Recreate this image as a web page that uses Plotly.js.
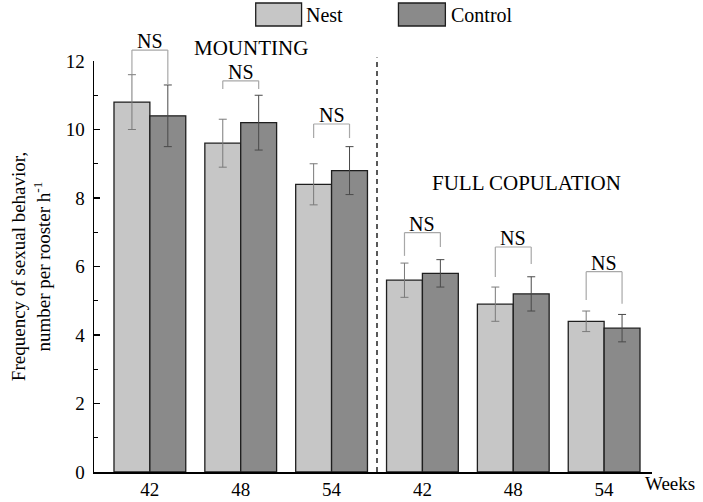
<!DOCTYPE html>
<html>
<head>
<meta charset="utf-8">
<script src="https://cdn.plot.ly/plotly-3.0.1.min.js"></script>
<style>html,body{margin:0;padding:0;background:#fff}#chart{width:703px;height:502px}</style>
</head>
<body>
<div id="chart"></div>
<script>
// ---- data ----
const weekLabels = ["42", "48", "54", "42", "48", "54"];
const nestValues = [10.8, 9.6, 8.4, 5.6, 4.9, 4.4];
const nestErrors = [0.8, 0.7, 0.6, 0.5, 0.5, 0.3];
const controlValues = [10.4, 10.2, 8.8, 5.8, 5.2, 4.2];
const controlErrors = [0.9, 0.8, 0.7, 0.4, 0.5, 0.4];
const sigLabels = ["NS", "NS", "NS", "NS", "NS", "NS"];
const bracketTop = [12.32, 11.42, 10.16, 6.99, 6.57, 5.85];
const bracketLeftBottom = [11.62, 11.18, 9.75, 6.31, 5.69, 5.02];
const bracketRightBottom = [11.3, 11.18, 9.75, 6.57, 6.07, 4.91];
const sectionLabels = ["MOUNTING", "FULL COPULATION"];

const FONT = "'Liberation Serif', 'Times New Roman', 'DejaVu Serif', serif";
const Y_MAX = 12;
const xs = weekLabels.map((_, i) => i);
const half = 0.1975;
const py = v => v / Y_MAX; // data value -> paper fraction (y axis spans 0..Y_MAX)

const traces = [
  {
    type: "bar", name: "Nest", x: xs, y: nestValues,
    marker: {color: "#c6c6c6", line: {color: "#1e1e1e", width: 1.3}},
    error_y: {type: "data", array: nestErrors, visible: true, color: "#7a7a7a", thickness: 1, width: 4}
  },
  {
    type: "bar", name: "Control", x: xs, y: controlValues,
    marker: {color: "#8a8a8a", line: {color: "#1e1e1e", width: 1.3}},
    error_y: {type: "data", array: controlErrors, visible: true, color: "#4a4a4a", thickness: 1, width: 4}
  }
];

const shapes = [];
const annotations = [];
const brColor = "#a8a8a8";
xs.forEach((x, i) => {
  const xl = x - half, xr = x + half;
  const t = py(bracketTop[i]);
  shapes.push({type: "line", xref: "x", yref: "paper", x0: xl, x1: xr, y0: t, y1: t, line: {color: brColor, width: 1.2}});
  shapes.push({type: "line", xref: "x", yref: "paper", x0: xl, x1: xl, y0: py(bracketLeftBottom[i]), y1: t, line: {color: brColor, width: 1.2}});
  shapes.push({type: "line", xref: "x", yref: "paper", x0: xr, x1: xr, y0: py(bracketRightBottom[i]), y1: t, line: {color: brColor, width: 1.2}});
  annotations.push({xref: "x", yref: "paper", x: x, y: t, text: sigLabels[i], showarrow: false,
    xanchor: "center", yanchor: "bottom", yshift: -4, font: {family: FONT, size: 20, color: "#000"}});
});

// divider between sections
shapes.push({type: "line", xref: "x", yref: "paper", x0: 2.5, x1: 2.5, y0: 0, y1: py(12.1), line: {color: "#000", width: 1.3, dash: "5px,4px"}});

annotations.push({xref: "x", yref: "paper", x: 1.11, y: py(12.38), xanchor: "center", yanchor: "middle", text: sectionLabels[0], showarrow: false, font: {family: FONT, size: 21, color: "#000"}});
annotations.push({xref: "x", yref: "paper", x: 4.15, y: py(8.44), xanchor: "center", yanchor: "middle", text: sectionLabels[1], showarrow: false, font: {family: FONT, size: 21, color: "#000"}});
annotations.push({xref: "paper", yref: "paper", x: 0.984, y: -0.027, xanchor: "left", yanchor: "middle", text: "Weeks", showarrow: false, font: {family: FONT, size: 19, color: "#000"}});

// legend drawn as boxes + text
const legItems = [
  {name: "Nest", color: "#c6c6c6", x0: 0.2898, x1: 0.372, tx: 0.376},
  {name: "Control", color: "#8a8a8a", x0: 0.5456, x1: 0.6297, tx: 0.6365}
];
legItems.forEach(it => {
  shapes.push({type: "rect", xref: "paper", yref: "paper", x0: it.x0, x1: it.x1, y0: 1.0852, y1: 1.1411,
    fillcolor: it.color, line: {color: "#1e1e1e", width: 1.3}});
  annotations.push({xref: "paper", yref: "paper", x: it.tx, y: 1.1131, xanchor: "left", yanchor: "middle",
    text: it.name, showarrow: false, font: {family: FONT, size: 20, color: "#000"}});
});

const layout = {
  width: 703, height: 502,
  margin: {l: 94, r: 51, t: 61, b: 30},
  paper_bgcolor: "#fff", plot_bgcolor: "#fff",
  font: {family: FONT, size: 19, color: "#000"},
  showlegend: false,
  barmode: "group", bargap: 0.21, bargroupgap: 0,
  xaxis: {
    range: [-0.615, 5.527], tickmode: "array", tickvals: xs, ticktext: weekLabels,
    showline: true, linecolor: "#000", linewidth: 1.5, ticks: "", showgrid: false, zeroline: false,
    tickfont: {family: FONT, size: 19, color: "#000"}, fixedrange: true
  },
  yaxis: {
    range: [0, Y_MAX], tickmode: "linear", tick0: 0, dtick: 2,
    showline: true, linecolor: "#000", linewidth: 1.5, ticks: "inside", ticklen: 6, tickwidth: 1.2, tickcolor: "#000",
    minor: {ticks: "inside", ticklen: 4, dtick: 1, tickcolor: "#000", tickwidth: 1.2},
    showgrid: false, zeroline: false, ticklabelstandoff: 4,
    tickfont: {family: FONT, size: 19, color: "#000"},
    title: {text: "Frequency of sexual behavior,<br>number per rooster h<sup>-1</sup>", font: {family: FONT, size: 19, color: "#000"}, standoff: 10}
  },
  shapes: shapes,
  annotations: annotations
};

Plotly.newPlot("chart", traces, layout, {displayModeBar: false, staticPlot: true});
</script>
</body>
</html>
